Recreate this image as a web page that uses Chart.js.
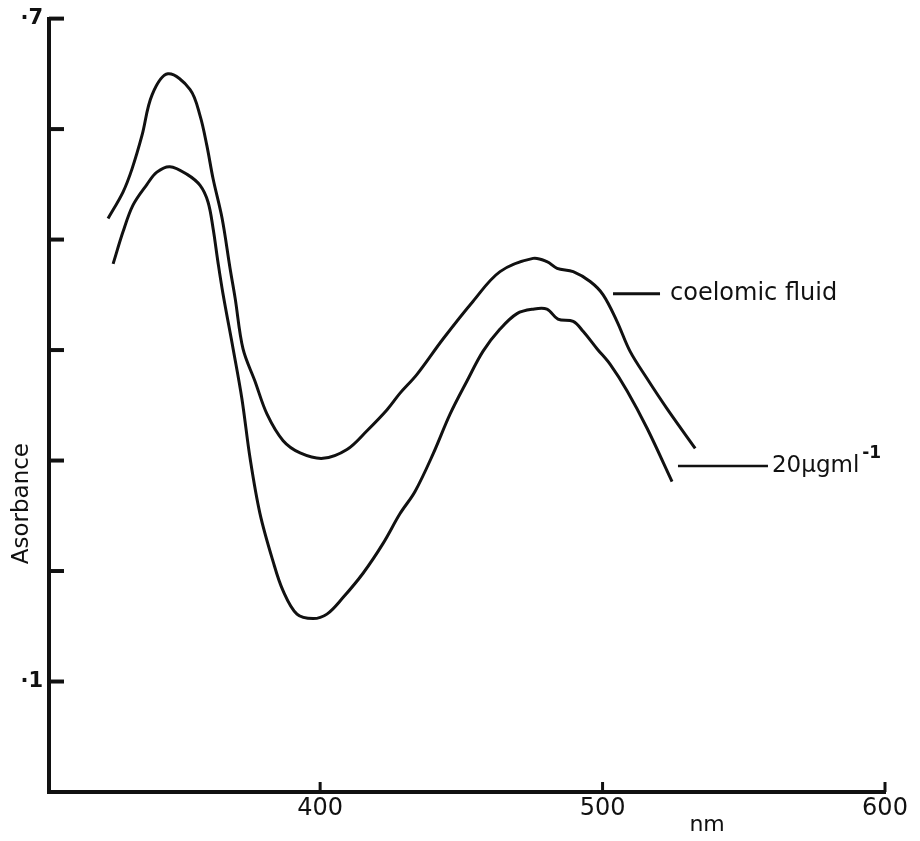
<!DOCTYPE html>
<html><head><meta charset="utf-8">
<script src="https://cdn.jsdelivr.net/npm/chart.js@4/dist/chart.umd.min.js"></script>
<style>html,body{margin:0;padding:0;background:#fff;}</style>
</head><body>
<canvas id="c" width="920" height="841"></canvas>
<script>
// ---- data ----
const coelomicNm  = [324.9,330.2,333.4,336.9,340.5,346.1,353.9,357.5,359.9,362.1,365.3,368.1,369.9,372.7,376.9,381.2,386.9,392.9,401.0,409.5,416.6,423.7,428.3,434.3,443.5,454.1,463.7,475.4,480.3,483.9,489.6,495.6,500.2,505.1,509.7,515.8,522.8,532.8];
const coelomicAbs = [0.519,0.543,0.564,0.594,0.631,0.650,0.636,0.612,0.585,0.555,0.519,0.474,0.447,0.401,0.372,0.342,0.318,0.307,0.302,0.310,0.327,0.346,0.361,0.378,0.410,0.444,0.471,0.483,0.480,0.474,0.471,0.462,0.450,0.426,0.399,0.374,0.347,0.311];
const solutionNm  = [326.7,330.2,333.7,338.7,342.2,346.8,352.9,357.5,360.3,362.1,363.8,365.6,369.2,372.3,375.2,378.7,383.3,386.9,391.8,397.5,402.4,408.1,415.2,422.3,428.3,433.6,440.0,446.0,452.0,457.7,463.7,469.7,475.4,480.3,484.2,489.6,493.1,498.1,502.7,508.7,515.8,524.6];
const solutionAbs = [0.478,0.507,0.531,0.550,0.561,0.566,0.559,0.549,0.534,0.510,0.480,0.451,0.401,0.356,0.302,0.252,0.209,0.182,0.161,0.157,0.161,0.176,0.198,0.225,0.252,0.272,0.306,0.342,0.372,0.399,0.419,0.433,0.437,0.437,0.428,0.426,0.417,0.401,0.387,0.363,0.329,0.281];
const xTickValues = [400, 500, 600];
const yTickValues = [0.1, 0.2, 0.3, 0.4, 0.5, 0.6, 0.7];
const yTickLabels = ['·1', '', '', '', '', '', '·7'];
const seriesLabels = ['coelomic fluid', '20μgml'];
const xTitle = 'nm';
const yTitle = 'Asorbance';

const INK = '#111';
const FONT = '"DejaVu Sans", sans-serif';

const toPts = (xs, ys) => xs.map((x, i) => ({x, y: ys[i]}));

const decor = {
  id: 'decor',
  afterDraw(chart) {
    const ctx = chart.ctx;
    const xs = chart.scales.x, ys = chart.scales.y;
    const a = chart.chartArea;
    ctx.save();
    ctx.strokeStyle = INK; ctx.fillStyle = INK; ctx.lineCap = 'butt';
    // inward tick marks
    ctx.lineWidth = 4;
    yTickValues.forEach(v => {
      const y = ys.getPixelForValue(v);
      ctx.beginPath(); ctx.moveTo(a.left, y); ctx.lineTo(a.left + 15, y); ctx.stroke();
    });
    ctx.lineWidth = 3;
    xTickValues.forEach(v => {
      const x = xs.getPixelForValue(v);
      ctx.beginPath(); ctx.moveTo(x, a.bottom); ctx.lineTo(x, a.bottom - 10); ctx.stroke();
    });
    // series labels with leader lines
    ctx.lineWidth = 3;
    ctx.textBaseline = 'middle'; ctx.textAlign = 'left';
    ctx.font = '24px ' + FONT;
    let x0 = xs.getPixelForValue(503.7), y0 = ys.getPixelForValue(0.451);
    ctx.beginPath(); ctx.moveTo(x0, y0); ctx.lineTo(x0 + 47, y0); ctx.stroke();
    ctx.fillText(seriesLabels[0], x0 + 57, y0);
    x0 = xs.getPixelForValue(526.7); y0 = ys.getPixelForValue(0.295);
    ctx.lineWidth = 2.5;
    ctx.beginPath(); ctx.moveTo(x0, y0); ctx.lineTo(x0 + 90, y0); ctx.stroke();
    ctx.font = '23px ' + FONT;
    ctx.fillText(seriesLabels[1], x0 + 94, y0);
    const w = ctx.measureText(seriesLabels[1]).width;
    ctx.font = 'bold 17px ' + FONT;
    ctx.fillText('-1', x0 + 97 + w, y0 - 12);
    // axis titles
    ctx.font = '22px ' + FONT;
    ctx.textAlign = 'center';
    ctx.fillText(xTitle, xs.getPixelForValue(537), a.bottom + 33);
    ctx.font = '23px ' + FONT;
    ctx.translate(22, ys.getPixelForValue(0.261));
    ctx.rotate(-Math.PI / 2);
    ctx.fillText(yTitle, 0, 0);
    ctx.restore();
  }
};

new Chart(document.getElementById('c'), {
  type: 'scatter',
  data: {
    datasets: [
      {label: seriesLabels[0], data: toPts(coelomicNm, coelomicAbs)},
      {label: seriesLabels[1], data: toPts(solutionNm, solutionAbs)}
    ].map(d => Object.assign(d, {showLine: true, pointRadius: 0, borderColor: INK, borderWidth: 3, tension: 0.35, fill: false}))
  },
  options: {
    responsive: false,
    animation: false,
    devicePixelRatio: 1,
    layout: {padding: {top: 16, right: 35, left: 0, bottom: 0}},
    plugins: {legend: {display: false}, tooltip: {enabled: false}},
    scales: {
      x: {
        type: 'linear', min: 304, max: 600,
        afterBuildTicks: s => { s.ticks = xTickValues.map(v => ({value: v})); },
        afterFit: s => { s.height = 49; },
        ticks: {color: INK, font: {family: FONT, size: 24}, padding: 2, maxRotation: 0, autoSkip: false},
        grid: {display: false, drawTicks: false},
        border: {display: true, color: INK, width: 4}
      },
      y: {
        type: 'linear', min: 0, max: 0.7,
        afterBuildTicks: s => { s.ticks = yTickValues.map(v => ({value: v})); },
        afterFit: s => { s.width = 49; },
        ticks: {color: INK, font: {family: FONT, size: 21, weight: 'bold'}, padding: 6, autoSkip: false,
                callback: (v, i) => yTickLabels[i]},
        grid: {display: false, drawTicks: false},
        border: {display: true, color: INK, width: 4}
      }
    }
  },
  plugins: [decor]
});
</script>
</body></html>
